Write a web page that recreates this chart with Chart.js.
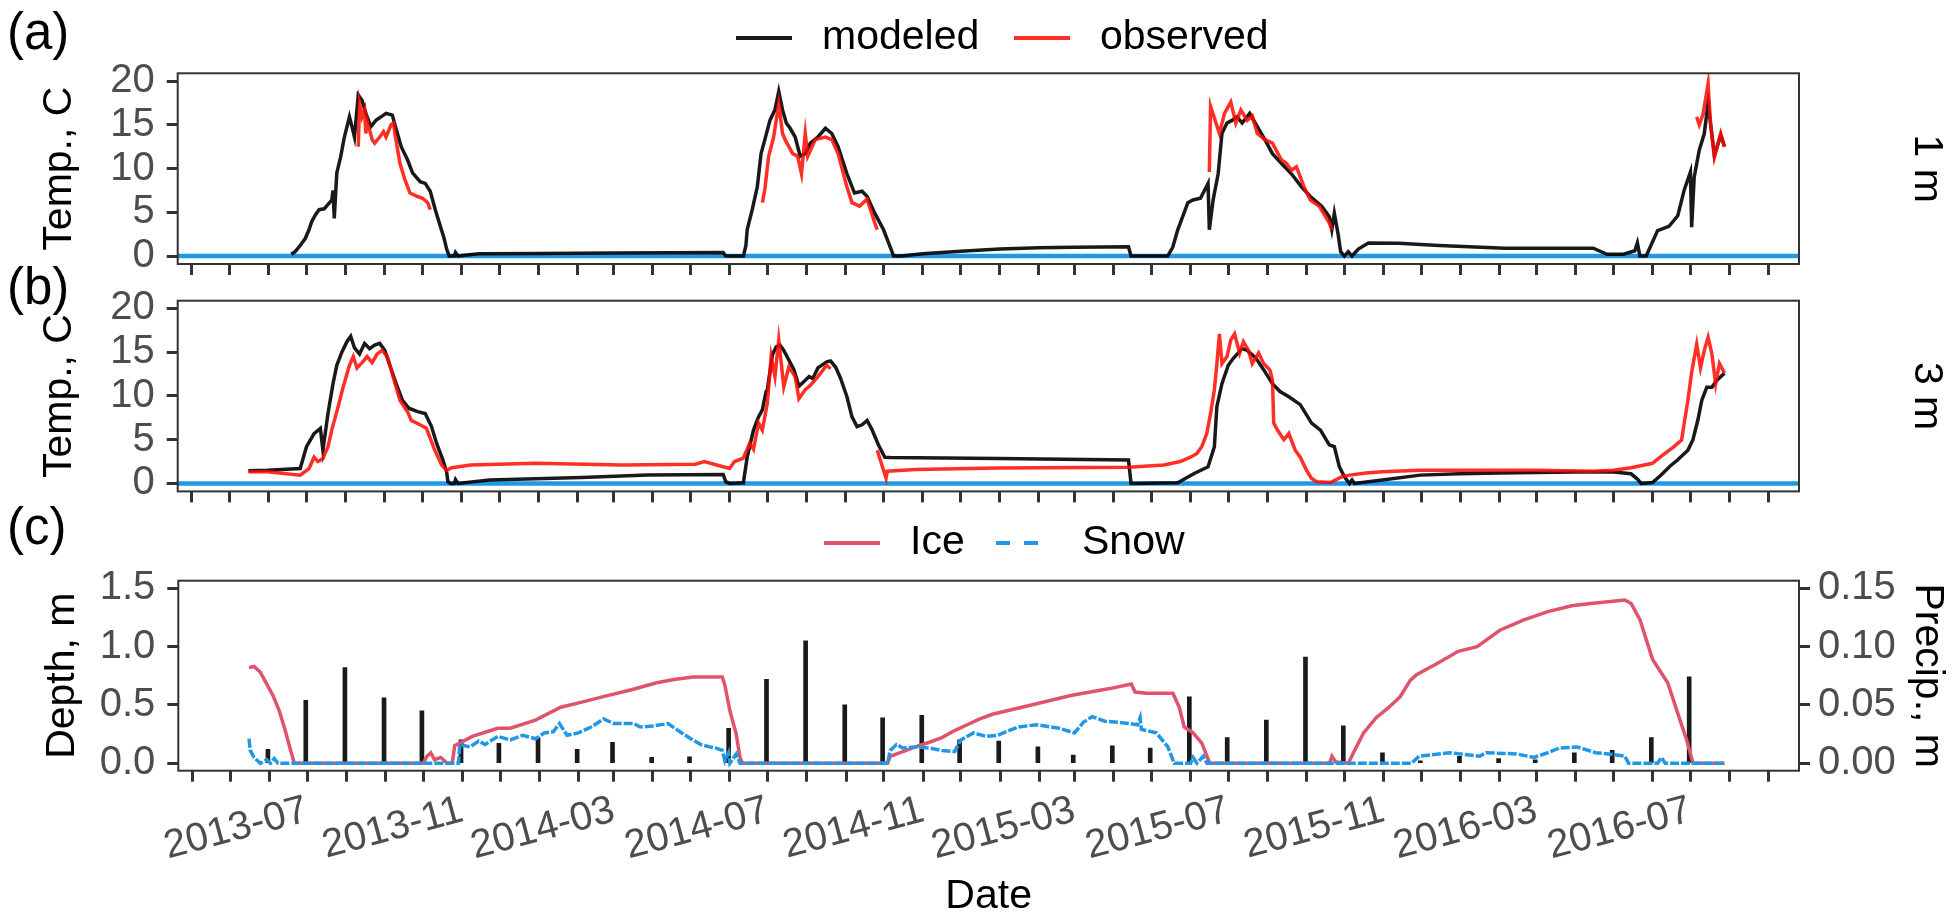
<!DOCTYPE html>
<html>
<head>
<meta charset="utf-8">
<script src="https://cdn.jsdelivr.net/npm/chart.js@4.4.1/dist/chart.umd.min.js"></script>
<style>
    html, body { margin: 0; padding: 0; background: #fff; }
    .layer { position: absolute; left: 0; top: 0; width: 1954px; height: 924px; }
</style>
</head>
<body>
<div class="layer"><canvas id="panelA"></canvas></div>
<div class="layer"><canvas id="panelB"></canvas></div>
<div class="layer"><canvas id="panelC"></canvas></div>
<script>
// axis limits and ticks
const xStart = '2013-03-21';
const xEnd = '2016-09-25';
const xLabelMonths = ['2013-07', '2013-11', '2014-03', '2014-07', '2014-11', '2015-03', '2015-07', '2015-11', '2016-03', '2016-07'];
const tempTicks = [0, 5, 10, 15, 20];
const depthTicks = [0, 0.5, 1.0, 1.5];
const precipTicks = [0, 0.05, 0.10, 0.15];

// 1 m, modeled
const mod1Dates = ['2013-06-19','2013-06-22','2013-06-26','2013-06-30','2013-07-03','2013-07-05','2013-07-08','2013-07-11','2013-07-15','2013-07-21','2013-07-22','2013-07-23','2013-07-25','2013-07-28','2013-07-31','2013-08-04','2013-08-06','2013-08-08','2013-08-11','2013-08-14','2013-08-17','2013-08-21','2013-08-25','2013-08-31','2013-09-02','2013-09-07','2013-09-09','2013-09-14','2013-09-19','2013-09-23','2013-09-29','2013-10-03','2013-10-07','2013-10-11','2013-10-15','2013-10-18','2013-10-20','2013-10-22','2013-10-26','2013-10-27','2013-10-29','2013-11-03','2013-11-15','2014-01-01','2014-03-01','2014-05-27','2014-05-29','2014-06-12','2014-06-14','2014-06-15','2014-06-19','2014-06-23','2014-06-26','2014-06-29','2014-07-03','2014-07-07','2014-07-10','2014-07-13','2014-07-16','2014-07-19','2014-07-23','2014-07-27','2014-07-31','2014-08-04','2014-08-10','2014-08-16','2014-08-21','2014-08-26','2014-09-02','2014-09-08','2014-09-14','2014-09-18','2014-09-24','2014-10-01','2014-10-05','2014-10-09','2014-10-15','2014-11-01','2014-12-01','2015-01-01','2015-02-01','2015-03-01','2015-04-13','2015-04-15','2015-05-14','2015-05-18','2015-05-22','2015-05-30','2015-06-03','2015-06-09','2015-06-15','2015-06-16','2015-06-19','2015-06-23','2015-06-26','2015-06-30','2015-07-04','2015-07-08','2015-07-12','2015-07-18','2015-07-24','2015-07-30','2015-08-05','2015-08-12','2015-08-20','2015-08-28','2015-09-04','2015-09-13','2015-09-19','2015-09-21','2015-09-23','2015-09-26','2015-09-28','2015-10-01','2015-10-04','2015-10-07','2015-10-12','2015-10-20','2015-11-13','2015-12-15','2016-02-05','2016-04-15','2016-04-26','2016-05-09','2016-05-18','2016-05-20','2016-05-22','2016-05-27','2016-06-05','2016-06-14','2016-06-21','2016-06-26','2016-07-01','2016-07-02','2016-07-04','2016-07-08','2016-07-12','2016-07-15','2016-07-20','2016-07-25','2016-07-28'];
const mod1Temp = [0.2,0.5,1.2,2.0,3.0,3.9,4.7,5.3,5.4,6.4,7.5,4.3,9.5,11.3,13.6,15.9,14.8,13.6,18.4,17.8,16.3,14.8,15.5,16.1,16.3,16.1,15.0,12.5,11.0,9.5,8.5,8.3,7.4,5.3,3.4,2.0,0.8,0.0,0.0,0.4,0.0,0.1,0.25,0.3,0.35,0.4,0.0,0.0,1.2,3.0,5.3,7.9,11.7,13.3,15.5,16.7,18.8,16.7,15.2,14.6,13.6,11.4,11.7,12.9,13.6,14.6,14.0,12.5,9.4,7.2,7.4,6.8,4.9,3.0,1.5,0.0,0.0,0.25,0.55,0.8,0.95,1.0,1.05,0.0,0.0,1.0,3.0,6.1,6.4,6.6,8.3,3.0,6.4,9.4,14.0,15.2,15.5,15.9,15.2,16.3,14.8,13.3,11.7,10.6,9.4,7.9,6.8,5.7,4.5,3.0,4.9,2.5,0.5,0.0,0.5,0.0,0.8,1.5,1.45,1.2,0.9,0.9,0.2,0.2,0.6,1.5,0.0,0.0,2.9,3.4,4.6,7.5,9.6,3.3,9.0,12.1,14.0,17.5,11.5,13.8,12.5];

// 1 m, observed (null = no data)
const obs1Dates = ['2013-08-11','2013-08-12','2013-08-14','2013-08-16','2013-08-17','2013-08-18','2013-08-22','2013-08-24','2013-08-28','2013-08-31','2013-09-02','2013-09-06','2013-09-08','2013-09-09','2013-09-13','2013-09-17','2013-09-21','2013-09-27','2013-10-01','2013-10-05','2013-10-07','2014-01-01','2014-06-27','2014-06-29','2014-07-02','2014-07-06','2014-07-10','2014-07-13','2014-07-15','2014-07-18','2014-07-21','2014-07-25','2014-07-28','2014-07-31','2014-08-02','2014-08-08','2014-08-16','2014-08-21','2014-08-26','2014-09-02','2014-09-06','2014-09-12','2014-09-18','2014-09-24','2014-09-26','2015-01-01','2015-06-16','2015-06-17','2015-06-24','2015-06-28','2015-07-03','2015-07-07','2015-07-11','2015-07-16','2015-07-20','2015-07-24','2015-07-30','2015-08-05','2015-08-12','2015-08-16','2015-08-20','2015-08-24','2015-08-30','2015-09-04','2015-09-11','2015-09-19','2015-09-21','2016-01-01','2016-07-06','2016-07-08','2016-07-11','2016-07-15','2016-07-17','2016-07-20','2016-07-25','2016-07-28'];
const obs1Temp = [12.5,17.4,15.9,16.7,14.0,15.5,13.3,12.9,13.6,14.2,13.6,15.0,15.2,14.0,10.6,8.7,7.2,6.8,6.6,6.1,5.3,null,6.1,7.6,11.4,13.6,17.4,14.0,13.3,12.5,11.7,11.4,9.4,14.0,11.4,13.3,13.6,13.3,11.7,7.9,6.1,5.7,6.5,3.8,3.0,null,9.6,17.1,14.0,16.3,17.6,15.2,16.7,15.5,16.0,14.0,13.3,12.9,11.0,10.6,9.8,10.2,7.9,6.4,5.7,3.8,3.0,null,15.9,15.0,16.2,19.7,15.0,11.3,14.0,12.5];

// 3 m, modeled
const mod3Dates = ['2013-05-16','2013-05-31','2013-06-26','2013-07-01','2013-07-07','2013-07-12','2013-07-14','2013-07-18','2013-07-22','2013-07-25','2013-07-29','2013-08-02','2013-08-05','2013-08-08','2013-08-12','2013-08-16','2013-08-20','2013-08-24','2013-08-28','2013-09-01','2013-09-05','2013-09-10','2013-09-15','2013-09-20','2013-09-27','2013-10-03','2013-10-08','2013-10-12','2013-10-17','2013-10-20','2013-10-21','2013-10-23','2013-10-26','2013-10-27','2013-10-29','2013-11-23','2014-02-04','2014-03-28','2014-05-27','2014-05-29','2014-06-01','2014-06-12','2014-06-15','2014-06-20','2014-06-24','2014-06-27','2014-06-30','2014-07-01','2014-07-05','2014-07-08','2014-07-11','2014-07-14','2014-07-18','2014-07-22','2014-07-26','2014-07-31','2014-08-03','2014-08-06','2014-08-10','2014-08-17','2014-08-20','2014-08-24','2014-08-28','2014-09-02','2014-09-06','2014-09-10','2014-09-14','2014-09-18','2014-09-22','2014-09-27','2014-10-02','2014-10-06','2014-12-31','2015-04-13','2015-04-15','2015-05-22','2015-05-28','2015-06-04','2015-06-15','2015-06-20','2015-06-22','2015-06-26','2015-07-01','2015-07-05','2015-07-12','2015-07-16','2015-07-23','2015-07-29','2015-08-05','2015-08-11','2015-08-18','2015-08-27','2015-09-05','2015-09-12','2015-09-19','2015-09-23','2015-09-27','2015-10-01','2015-10-05','2015-10-07','2015-10-09','2015-10-31','2015-11-30','2015-12-31','2016-02-01','2016-03-01','2016-04-01','2016-05-01','2016-05-15','2016-05-20','2016-05-23','2016-06-01','2016-06-08','2016-06-15','2016-06-21','2016-06-29','2016-07-03','2016-07-07','2016-07-10','2016-07-14','2016-07-18','2016-07-22','2016-07-28'];
const mod3Temp = [1.45,1.5,1.7,4.2,5.7,6.3,3.8,8.0,11.4,13.5,15.0,16.2,16.8,15.5,14.8,16.0,15.4,15.8,16.0,15.2,13.5,11.4,9.5,8.6,8.2,8.0,6.5,4.6,2.7,1.3,0.2,0.0,0.0,0.45,0.0,0.38,0.68,0.95,1.03,0.2,0.0,0.08,3.0,6.1,7.6,8.4,10.5,10.7,14.7,15.6,15.8,15.2,14.1,13.0,11.1,11.8,12.2,12.0,13.2,13.9,14.0,13.3,12.0,9.9,7.6,6.5,6.7,7.2,6.1,4.4,3.0,2.97,2.86,2.67,0.0,0.08,0.57,1.14,1.9,4.2,8.8,11.4,13.5,14.3,15.4,15.2,14.3,13.0,11.4,10.5,9.9,9.0,6.9,6.1,4.4,4.2,1.9,0.76,0.0,0.4,0.0,0.4,0.95,1.1,1.2,1.25,1.3,1.3,1.1,0.5,0.0,0.1,1.0,2.0,2.7,3.8,5.0,7.3,9.5,11.0,11.0,11.8,12.6];

// 3 m, observed
const obs3Dates = ['2013-05-16','2013-05-31','2013-06-26','2013-07-03','2013-07-07','2013-07-10','2013-07-14','2013-07-18','2013-07-21','2013-07-26','2013-07-30','2013-08-01','2013-08-04','2013-08-07','2013-08-10','2013-08-14','2013-08-18','2013-08-22','2013-08-26','2013-08-30','2013-09-03','2013-09-07','2013-09-10','2013-09-13','2013-09-19','2013-09-22','2013-09-27','2013-10-04','2013-10-10','2013-10-16','2013-10-20','2013-10-24','2013-11-08','2013-12-29','2014-03-08','2014-05-05','2014-05-12','2014-05-27','2014-06-01','2014-06-05','2014-06-12','2014-06-17','2014-06-20','2014-06-24','2014-06-27','2014-07-01','2014-07-04','2014-07-07','2014-07-10','2014-07-14','2014-07-18','2014-07-23','2014-07-26','2014-07-31','2014-08-04','2014-08-10','2014-08-17','2014-08-20','2014-09-01','2014-09-26','2014-10-03','2014-10-04','2014-10-26','2014-12-31','2015-04-13','2015-05-11','2015-05-24','2015-06-01','2015-06-06','2015-06-10','2015-06-14','2015-06-17','2015-06-20','2015-06-22','2015-06-24','2015-06-26','2015-06-30','2015-07-03','2015-07-06','2015-07-10','2015-07-13','2015-07-17','2015-07-20','2015-07-25','2015-07-29','2015-08-03','2015-08-05','2015-08-06','2015-08-09','2015-08-14','2015-08-18','2015-08-23','2015-08-27','2015-09-01','2015-09-05','2015-09-09','2015-09-20','2015-09-29','2015-10-05','2015-10-18','2015-10-31','2015-11-30','2016-03-01','2016-04-15','2016-05-01','2016-05-15','2016-06-01','2016-06-07','2016-06-18','2016-06-24','2016-06-26','2016-06-29','2016-07-02','2016-07-06','2016-07-09','2016-07-12','2016-07-15','2016-07-18','2016-07-21','2016-07-24','2016-07-28'];
const obs3Temp = [1.33,1.33,0.95,1.7,3.0,2.5,2.85,4.2,6.1,8.75,11.0,12.0,13.5,14.5,13.2,13.8,14.5,13.8,14.8,15.2,14.5,12.5,11.0,9.5,8.2,7.2,6.85,6.3,4.0,2.1,1.5,1.8,2.1,2.3,2.1,2.2,2.5,1.9,1.7,2.5,2.9,4.6,3.9,6.9,6.1,9.2,14.5,12.2,16.4,11.05,13.3,12.2,9.7,10.7,11.2,12.2,13.5,13.1,null,3.8,0.6,1.4,1.6,1.76,1.85,2.1,2.5,3.0,3.4,4.2,5.7,8.0,10.7,13.7,17.1,13.7,14.5,16.4,17.1,14.9,16.2,15.2,13.7,14.9,13.7,12.95,11.8,6.9,6.1,5.0,5.7,3.8,3.0,1.5,0.57,0.2,0.1,0.76,0.95,1.2,1.33,1.5,1.5,1.4,1.5,1.8,2.3,3.0,4.2,4.95,6.8,9.5,12.7,15.9,13.2,15.2,16.7,14.8,11.4,13.7,12.6];

// ice and snow depth, m
const iceDates = ['2013-05-16','2013-05-20','2013-05-25','2013-05-30','2013-06-04','2013-06-09','2013-06-14','2013-06-18','2013-06-21','2013-10-01','2013-10-04','2013-10-07','2013-10-10','2013-10-15','2013-10-20','2013-10-24','2013-10-26','2013-11-09','2013-11-29','2013-12-09','2013-12-29','2014-01-18','2014-02-02','2014-02-24','2014-03-15','2014-04-04','2014-04-19','2014-05-03','2014-05-26','2014-05-28','2014-06-01','2014-06-06','2014-06-09','2014-06-11','2014-10-04','2014-10-06','2014-10-16','2014-10-26','2014-11-06','2014-11-16','2014-11-26','2014-12-06','2014-12-16','2014-12-26','2015-01-30','2015-02-26','2015-03-29','2015-04-15','2015-04-18','2015-04-27','2015-05-18','2015-05-23','2015-05-27','2015-06-03','2015-06-10','2015-06-15','2015-06-16','2015-09-19','2015-09-21','2015-09-24','2015-10-04','2015-10-08','2015-10-16','2015-10-26','2015-11-04','2015-11-14','2015-11-22','2015-11-27','2015-12-14','2015-12-30','2016-01-14','2016-02-01','2016-02-20','2016-03-10','2016-03-29','2016-04-13','2016-05-10','2016-05-15','2016-05-22','2016-06-01','2016-06-13','2016-06-20','2016-06-28','2016-07-03','2016-07-28'];
const iceDepth = [0.82,0.83,0.78,0.68,0.58,0.45,0.27,0.11,0.0,0.0,0.06,0.09,0.03,0.05,0.0,0.0,0.15,0.23,0.30,0.30,0.37,0.48,0.52,0.58,0.63,0.69,0.72,0.74,0.74,0.67,0.45,0.25,0.05,0.0,0.0,0.06,0.10,0.14,0.18,0.22,0.28,0.33,0.38,0.42,0.51,0.58,0.64,0.68,0.61,0.60,0.60,0.48,0.31,0.26,0.17,0.03,0.0,0.0,0.06,0.01,0.0,0.09,0.26,0.39,0.47,0.57,0.71,0.76,0.86,0.96,1.00,1.14,1.23,1.30,1.35,1.37,1.40,1.37,1.23,0.89,0.69,0.46,0.20,0.0,0.0];
const snowDates = ['2013-05-16','2013-05-17','2013-05-20','2013-05-25','2013-05-30','2013-06-02','2013-06-05','2013-06-08','2013-10-29','2013-10-30','2013-11-07','2013-11-14','2013-11-19','2013-11-29','2013-12-09','2013-12-19','2013-12-29','2014-01-05','2014-01-12','2014-01-17','2014-01-23','2014-02-01','2014-02-11','2014-02-21','2014-03-01','2014-03-17','2014-03-22','2014-04-01','2014-04-13','2014-04-21','2014-05-01','2014-05-09','2014-05-16','2014-05-21','2014-05-26','2014-05-28','2014-05-31','2014-06-01','2014-06-06','2014-06-09','2014-10-04','2014-10-06','2014-10-11','2014-10-16','2014-10-26','2014-11-06','2014-11-16','2014-11-26','2014-12-01','2014-12-11','2014-12-21','2014-12-30','2015-01-15','2015-01-30','2015-02-17','2015-03-01','2015-03-08','2015-03-15','2015-03-25','2015-04-06','2015-04-20','2015-04-22','2015-04-23','2015-05-05','2015-05-14','2015-05-19','2015-06-01','2015-06-03','2015-06-06','2015-06-11','2015-06-14','2015-11-23','2015-11-29','2015-12-23','2016-01-01','2016-01-16','2016-01-21','2016-02-14','2016-02-28','2016-03-10','2016-03-19','2016-04-02','2016-04-17','2016-04-27','2016-05-10','2016-05-13','2016-06-05','2016-06-08','2016-06-11','2016-07-28'];
const snowDepth = [0.21,0.11,0.05,0.0,0.03,0.0,0.04,0.0,0.0,0.16,0.14,0.19,0.16,0.23,0.20,0.24,0.21,0.26,0.27,0.34,0.24,0.26,0.31,0.38,0.34,0.34,0.31,0.32,0.34,0.28,0.21,0.16,0.14,0.13,0.11,0.02,0.09,0.0,0.08,0.0,0.0,0.11,0.16,0.13,0.14,0.13,0.11,0.10,0.20,0.26,0.23,0.24,0.31,0.33,0.30,0.26,0.35,0.40,0.36,0.35,0.33,0.39,0.29,0.26,0.14,0.0,0.0,0.05,0.0,0.06,0.0,0.0,0.06,0.09,0.08,0.06,0.09,0.08,0.05,0.09,0.13,0.14,0.09,0.08,0.06,0.0,0.0,0.05,0.0,0.0];

// monthly precipitation, m
const precipDates = ['2013-05-31','2013-06-30','2013-07-31','2013-08-31','2013-09-30','2013-10-31','2013-11-30','2013-12-31','2014-01-31','2014-02-28','2014-03-31','2014-04-30','2014-05-31','2014-06-30','2014-07-31','2014-08-31','2014-09-30','2014-10-31','2014-11-30','2014-12-31','2015-01-31','2015-02-28','2015-03-31','2015-04-30','2015-05-31','2015-06-30','2015-07-31','2015-08-31','2015-09-30','2015-10-31','2015-11-30','2015-12-31','2016-01-31','2016-02-29','2016-03-31','2016-04-30','2016-05-31','2016-06-30'];
const precipDepth = [0.012,0.054,0.082,0.056,0.045,0.020,0.017,0.022,0.012,0.018,0.005,0.0055,0.030,0.072,0.105,0.050,0.039,0.041,0.020,0.019,0.014,0.007,0.015,0.013,0.057,0.022,0.037,0.091,0.032,0.009,0.002,0.006,0.004,0.003,0.009,0.011,0.022,0.074];

const FONT = '"Liberation Sans", Arial, sans-serif';
const GREY = '#4D4D4D';
const BLUE = '#2297E6';
const ICE = '#DF536B';
const MODEL = 'rgba(0,0,0,0.9)';
const OBS = 'rgba(255,10,0,0.85)';

function toDay(s) {
    let p = s.split('-');
    return Date.UTC(+p[0], +p[1] - 1, +(p[2] || 1)) / 86400000;
}

function pairs(dates, values) {
    return dates.map((d, i) => ({ x: toDay(d), y: values[i] }));
}

// monthly tick marks, labels every 4 months
let monthTicks = [];
for (let y = 2013; y <= 2016; y++) {
    for (let m = 1; m <= 12; m++) {
        let v = Date.UTC(y, m - 1, 1) / 86400000;
        if (v >= toDay(xStart) && v <= toDay(xEnd)) monthTicks.push(v);
    }
}
let xLabelFor = {};
xLabelMonths.forEach(s => { xLabelFor[toDay(s)] = s; });

const tickGrid = { drawOnChartArea: false, drawTicks: true, tickLength: 11, tickWidth: 3, tickColor: '#333333', offset: false };

function xAxis(withLabels) {
    return {
        type: 'linear',
        min: toDay(xStart),
        max: toDay(xEnd),
        bounds: 'data',
        offset: false,
        afterBuildTicks: s => { s.ticks = monthTicks.map(v => ({ value: v })); },
        afterFit: s => { s.height = withLabels ? 153.3 : 12; s.paddingLeft = 0; s.paddingRight = 0; },
        grid: tickGrid,
        border: { display: false },
        ticks: {
            display: withLabels,
            autoSkip: false,
            minRotation: 15,
            maxRotation: 15,
            padding: 5,
            color: GREY,
            font: { family: FONT, size: 40 },
            callback: v => xLabelFor[v] || ''
        },
        title: {
            display: withLabels,
            text: 'Date',
            color: '#000',
            font: { family: FONT, size: 41 },
            padding: { top: 0, bottom: 2.4 }
        }
    };
}

function yAxis(opt) {
    return {
        type: 'linear',
        position: opt.position,
        min: opt.min,
        max: opt.max,
        bounds: 'data',
        afterBuildTicks: s => { s.ticks = opt.ticks.map(v => ({ value: v })); },
        afterFit: s => { s.width = opt.width; s.paddingTop = 0; s.paddingBottom = 0; },
        grid: tickGrid,
        border: { display: false },
        ticks: {
            autoSkip: false,
            padding: opt.pad,
            color: GREY,
            font: { family: FONT, size: 40 },
            callback: opt.fmt
        },
        title: {
            display: true,
            text: opt.title,
            color: '#000',
            font: { family: FONT, size: 41 },
            padding: { top: opt.titlePad, bottom: 0 }
        }
    };
}

// box, tag, strip label and legend drawn on top of each panel
const deco = {
    id: 'deco',
    afterDraw(chart, args, o) {
        const ctx = chart.ctx;
        const a = chart.chartArea;
        ctx.save();
        ctx.strokeStyle = '#333333';
        ctx.lineWidth = 2;
        ctx.strokeRect(a.left, a.top, a.right - a.left, a.bottom - a.top);

        ctx.fillStyle = '#000';
        ctx.textAlign = 'left';
        ctx.textBaseline = 'alphabetic';
        ctx.font = '51px ' + FONT;
        ctx.fillText(o.tag, 7, o.tagY);

        if (o.strip) {
            ctx.save();
            ctx.translate(1926, (a.top + a.bottom) / 2);
            ctx.rotate(Math.PI / 2);
            ctx.textAlign = 'center';
            ctx.textBaseline = 'middle';
            ctx.font = '41px ' + FONT;
            ctx.fillText(o.strip, 0, 0);
            ctx.restore();
        }

        (o.legend || []).forEach(it => {
            ctx.beginPath();
            ctx.strokeStyle = it.color;
            ctx.lineWidth = 4;
            ctx.setLineDash(it.dash || []);
            ctx.moveTo(it.x0, o.legendY);
            ctx.lineTo(it.x0 + 56, o.legendY);
            ctx.stroke();
            ctx.setLineDash([]);
            ctx.font = '41px ' + FONT;
            ctx.textBaseline = 'middle';
            ctx.fillStyle = '#000';
            ctx.fillText(it.text, it.x0 + 86, o.legendY);
        });
        ctx.restore();
    }
};

function tempChart(id, modData, obsData, tag, tagY, strip, top, legend) {
    const bottom = top + 190.7;
    return new Chart(document.getElementById(id), {
        type: 'line',
        data: {
            datasets: [
                { label: 'zero', data: [{ x: toDay(xStart), y: 0 }, { x: toDay(xEnd), y: 0 }], borderColor: BLUE, borderWidth: 4.5, pointRadius: 0, order: 3 },
                { label: 'modeled', data: modData, borderColor: MODEL, borderWidth: 3.5, pointRadius: 0, order: 2 },
                { label: 'observed', data: obsData, borderColor: OBS, borderWidth: 3.5, pointRadius: 0, spanGaps: false, order: 1 }
            ]
        },
        options: {
            responsive: true,
            maintainAspectRatio: false,
            animation: false,
            layout: { autoPadding: false, padding: { top: top, left: 0, right: 155, bottom: 924 - bottom - 12 } },
            scales: {
                x: xAxis(false),
                y: yAxis({ position: 'left', min: -0.91, max: 20.88, ticks: tempTicks, width: 177.7, pad: 12, fmt: v => String(v), title: 'Temp., C', titlePad: 35.4 })
            },
            plugins: {
                legend: { display: false },
                tooltip: { enabled: false },
                deco: { tag: tag, tagY: tagY, strip: strip, legendY: 38, legend: legend }
            }
        },
        plugins: [deco]
    });
}

tempChart('panelA', pairs(mod1Dates, mod1Temp), pairs(obs1Dates, obs1Temp), '(a)', 49, '1 m', 73.3, [
    { text: 'modeled', color: MODEL, x0: 736 },
    { text: 'observed', color: OBS, x0: 1014 }
]);
tempChart('panelB', pairs(mod3Dates, mod3Temp), pairs(obs3Dates, obs3Temp), '(b)', 304, '3 m', 300.7, []);

new Chart(document.getElementById('panelC'), {
    type: 'line',
    data: {
        datasets: [
            { type: 'bar', label: 'Precip', data: pairs(precipDates, precipDepth), yAxisID: 'y2', backgroundColor: '#1A1A1A', barThickness: 4, order: 3 },
            { label: 'Ice', data: pairs(iceDates, iceDepth), yAxisID: 'y', borderColor: ICE, borderWidth: 3.5, pointRadius: 0, order: 2 },
            { label: 'Snow', data: pairs(snowDates, snowDepth), yAxisID: 'y', borderColor: BLUE, borderWidth: 3.5, borderDash: [9, 2], pointRadius: 0, order: 1 }
        ]
    },
    options: {
        responsive: true,
        maintainAspectRatio: false,
        animation: false,
        layout: { autoPadding: false, padding: { top: 580.7, left: 0, right: 0, bottom: 0 } },
        scales: {
            x: xAxis(true),
            y: yAxis({ position: 'left', min: -0.064, max: 1.565, ticks: depthTicks, width: 178.3, pad: 12, fmt: v => v.toFixed(1), title: 'Depth, m', titlePad: 38.4 }),
            y2: yAxis({ position: 'right', min: -0.0064, max: 0.1565, ticks: precipTicks, width: 155, pad: 8, fmt: v => v.toFixed(2), title: 'Precip., m', titlePad: 1.6 })
        },
        plugins: {
            legend: { display: false },
            tooltip: { enabled: false },
            deco: { tag: '(c)', tagY: 544, strip: null, legendY: 543, legend: [
                { text: 'Ice', color: ICE, x0: 824 },
                { text: 'Snow', color: BLUE, x0: 996, dash: [14, 14] }
            ] }
        }
    },
    plugins: [deco]
});
</script>
</body>
</html>
